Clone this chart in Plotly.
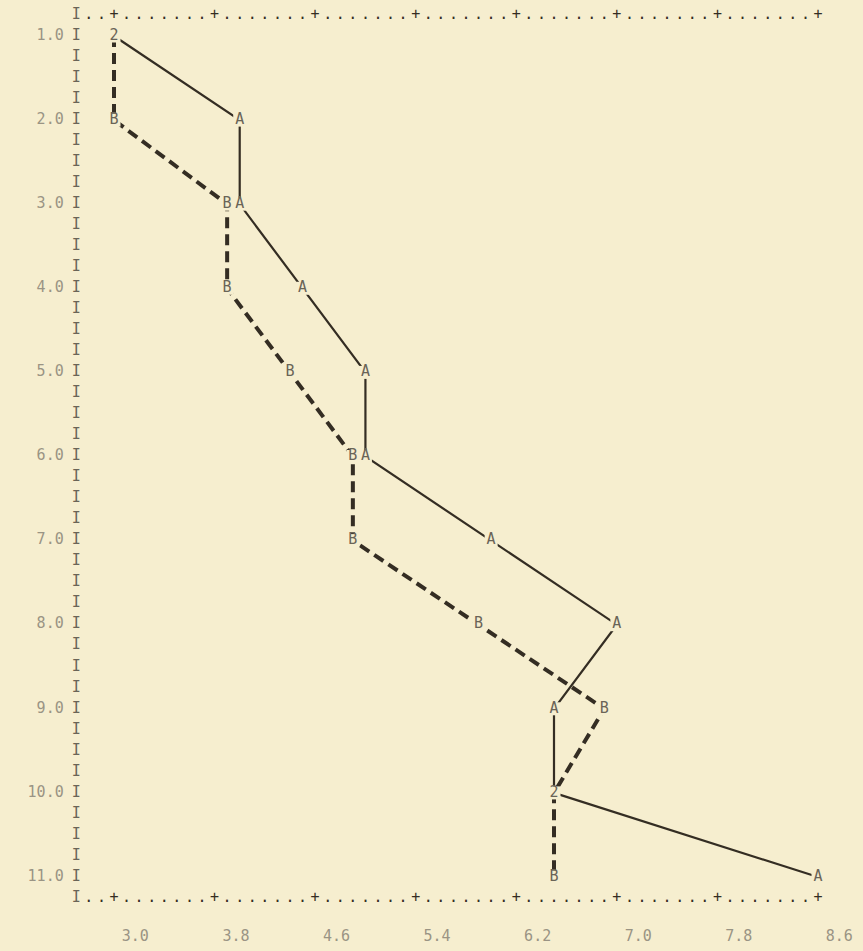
import numpy as np
import plotly.graph_objects as go

# ---- data ----
y_levels = [1.0, 2.0, 3.0, 4.0, 5.0, 6.0, 7.0, 8.0, 9.0, 10.0, 11.0]
series_a = [3.0, 4.0, 4.0, 4.5, 5.0, 5.0, 6.0, 7.0, 6.5, 6.5, 8.6]
series_b = [3.0, 3.0, 3.9, 3.9, 4.4, 4.9, 4.9, 5.9, 6.9, 6.5, 6.5]

x_tick_vals = [3.0, 3.8, 4.6, 5.4, 6.2, 7.0, 7.8, 8.6]
x_tick_labels = ["3.0", "3.8", "4.6", "5.4", "6.2", "7.0", "7.8", "8.6"]
y_tick_vals = [1.0, 2.0, 3.0, 4.0, 5.0, 6.0, 7.0, 8.0, 9.0, 10.0, 11.0]
y_tick_labels = ["1.0", "2.0", "3.0", "4.0", "5.0", "6.0", "7.0", "8.0",
                 "9.0", "10.0", "11.0"]

# ---- styling ----
BG = "#f6eecf"
INK = "#342d23"
FAINT = "#9a9484"
MID = "#6a6457"
FONT = "DejaVu Sans Mono"

col_step = 0.1          # one printer column
row_step = 0.25         # one printer line
x_min, x_max = min(x_tick_vals), max(x_tick_vals)
y_min, y_max = min(y_tick_vals), max(y_tick_vals)
frame_col = round(x_min - 3 * col_step, 2)
top_row = y_min - row_step
bot_row = y_max + row_step

fig = go.Figure()

# frame: left column of "I"
rows = np.round(np.arange(top_row, bot_row + row_step / 2, row_step), 3)
fig.add_trace(go.Scatter(x=[frame_col] * len(rows), y=rows, mode="text",
                         text=["I"] * len(rows),
                         textfont=dict(family=FONT, size=15, color=MID),
                         hoverinfo="skip"))

# frame: top and bottom rows of dots and pluses
n_cols = int(round((x_max - frame_col) / col_step))
cols = np.round(frame_col + col_step * np.arange(1, n_cols + 1), 2)
tick_set = set(np.round(x_tick_vals, 2))
chars = ["+" if c in tick_set else "." for c in cols]
for r in (top_row, bot_row):
    fig.add_trace(go.Scatter(x=cols, y=[r] * len(cols), mode="text",
                             text=chars,
                             textfont=dict(family=FONT, size=15, color=INK),
                             hoverinfo="skip"))

# y labels
fig.add_trace(go.Scatter(x=[frame_col - 0.1] * len(y_tick_vals), y=y_tick_vals,
                         mode="text", text=y_tick_labels,
                         textposition="middle left",
                         textfont=dict(family=FONT, size=15, color=FAINT),
                         hoverinfo="skip"))

# x labels
fig.add_trace(go.Scatter(x=[v + 0.17 for v in x_tick_vals],
                         y=[bot_row + 0.47] * len(x_tick_vals),
                         mode="text", text=x_tick_labels,
                         textfont=dict(family=FONT, size=15, color=FAINT),
                         hoverinfo="skip"))

# series lines
fig.add_trace(go.Scatter(x=series_b, y=y_levels, mode="lines",
                         line=dict(color=INK, width=4, dash="11px,6px"),
                         hoverinfo="skip"))
fig.add_trace(go.Scatter(x=series_a, y=y_levels, mode="lines",
                         line=dict(color=INK, width=2.2),
                         hoverinfo="skip"))

# letter symbols (A, B, or 2 when both coincide)
lx, ly, lt = [], [], []
for y, a, b in zip(y_levels, series_a, series_b):
    if abs(a - b) < 1e-9:
        lx.append(a); ly.append(y); lt.append("2")
    else:
        lx += [a, b]; ly += [y, y]; lt += ["A", "B"]

fig.add_trace(go.Scatter(x=lx, y=ly, mode="markers",
                         marker=dict(symbol="square", size=13, color=BG),
                         hoverinfo="skip"))
fig.add_trace(go.Scatter(x=lx, y=ly, mode="text", text=lt,
                         textfont=dict(family=FONT, size=15, color=MID),
                         hoverinfo="skip"))

# pixel-matched ranges (x=3.0 at ~114px, 8.6 at ~818px; y=1 at ~36px, 11 at ~877px)
W, H = 863, 951
px_x = (818 - 114) / (x_max - x_min)
px_y = (877 - 36) / (y_max - y_min)
x_range = [x_min - 114 / px_x, x_min + (W - 114) / px_x]
y_range = [y_min + (H - 36) / px_y, y_min - 36 / px_y]

fig.update_layout(
    width=W, height=H,
    margin=dict(l=0, r=0, t=0, b=0),
    paper_bgcolor=BG, plot_bgcolor=BG,
    showlegend=False,
    xaxis=dict(visible=False, range=x_range, fixedrange=True),
    yaxis=dict(visible=False, range=y_range, fixedrange=True),
)

fig.write_html(
    "out.html",
    config={"displayModeBar": False},
    post_script=(
        "document.body.style.margin='0';"
        "document.body.style.overflow='hidden';"
        "document.body.style.background='" + BG + "';"
    ),
)
